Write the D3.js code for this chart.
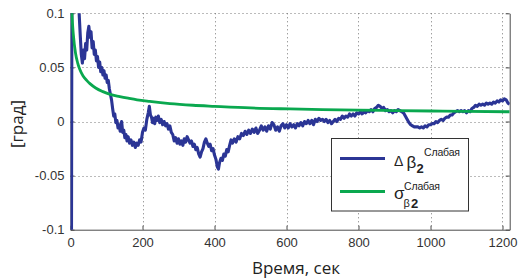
<!DOCTYPE html>
<html><head><meta charset="utf-8">
<script src="https://cdn.jsdelivr.net/npm/d3@7/dist/d3.min.js"></script>
<style>
html,body{margin:0;padding:0;background:#fff;}
svg{display:block;}
</style></head>
<body>
<svg id="chart" width="521" height="279"></svg>
<script>
// ---- data ----
const xTicks = [0, 200, 400, 600, 800, 1000, 1200];
const yTicks = [-0.1, -0.05, 0, 0.05, 0.1];
const yTickLabels = ["-0.1", "-0.05", "0", "0.05", "0.1"];
const xLabel = "Время, сек";
const yLabel = "[град]";
const seriesNames = ["Δ β", "σ"];

// Δβ2 (weak) – time, value
const deltaT = [2.5,4,6,9,12,16,20,24,27,30,33,36,39,42,45,48,51,54,57,60,63,66,69,72,75,78,81,84,87,90,93,96,99,102,105,108,111,114,117,120,123,126,129,132,135,138,142,145,148,151,154,157,160,164,168,172,176,180,184,188,192,196,200,204,208,212,216,219,222,225,228,231,234,237,240,244,248,252,256,260,264,268,272,276,280,284,288,292,296,300,304,308,312,316,320,324,328,332,336,340,344,348,352,356,360,364,368,372,376,380,384,388,392,396,400,404,408,411,414,418,422,426,430,434,438,442,446,450,455,460,465,470,475,480,485,490,495,500,505,510,515,520,525,530,535,540,545,550,555,560,565,570,575,580,585,590,595,600,605,610,615,620,625,630,635,640,645,650,655,660,665,670,675,680,685,690,695,700,705,710,715,720,725,730,735,740,745,750,755,760,765,770,775,780,785,790,795,800,805,810,815,820,825,830,835,840,845,850,855,860,865,870,875,880,885,890,895,900,905,910,915,920,925,930,935,940,945,950,955,960,965,970,975,980,985,990,995,1000,1005,1010,1015,1020,1025,1030,1035,1040,1045,1050,1055,1060,1065,1070,1075,1080,1085,1090,1095,1100,1105,1110,1115,1120,1125,1130,1135,1140,1145,1150,1155,1160,1165,1170,1175,1180,1185,1190,1195,1200,1205,1210,1215,1220];
const deltaV = [-0.15,0.15,0.105,0.13,0.102,0.12,0.104,0.1,0.08,0.062,0.054,0.066,0.058,0.072,0.066,0.082,0.088,0.078,0.083,0.068,0.074,0.062,0.066,0.056,0.06,0.05,0.055,0.046,0.05,0.043,0.047,0.04,0.043,0.036,0.038,0.03,0.025,0.02,0.012,0.005,0.007,-0.001,0.001,-0.006,-0.003,-0.009,0.0,-0.01,-0.008,-0.015,-0.012,-0.018,-0.014,-0.02,-0.017,-0.022,-0.019,-0.024,-0.02,-0.022,-0.017,-0.019,-0.01,-0.006,-0.008,0.002,0.008,0.014,0.006,0.004,-0.001,0.003,-0.002,0.004,0.001,0.005,-0.001,0.002,-0.003,0.0,-0.004,-0.002,-0.007,-0.004,-0.01,-0.012,-0.018,-0.015,-0.02,-0.016,-0.021,-0.018,-0.022,-0.016,-0.019,-0.014,-0.017,-0.02,-0.018,-0.023,-0.021,-0.026,-0.024,-0.03,-0.033,-0.028,-0.025,-0.019,-0.016,-0.02,-0.023,-0.021,-0.027,-0.025,-0.031,-0.035,-0.042,-0.044,-0.038,-0.034,-0.036,-0.03,-0.032,-0.026,-0.028,-0.022,-0.017,-0.02,-0.016,-0.019,-0.014,-0.016,-0.011,-0.013,-0.009,-0.012,-0.008,-0.011,-0.007,-0.01,-0.006,-0.011,-0.008,-0.004,-0.008,-0.005,-0.009,-0.004,-0.007,-0.001,-0.003,-0.008,-0.005,-0.009,-0.004,-0.002,-0.006,-0.003,-0.006,-0.002,-0.005,-0.003,-0.006,-0.002,-0.004,-0.001,-0.004,0.0,-0.002,0.001,-0.002,0.001,-0.003,0.002,0.0,0.003,0.001,0.002,0.0,0.002,-0.001,0.001,-0.002,0.0,0.002,0.0,0.003,0.002,0.005,0.003,0.005,0.004,0.007,0.005,0.007,0.005,0.008,0.007,0.009,0.007,0.009,0.008,0.01,0.009,0.011,0.009,0.012,0.013,0.015,0.014,0.012,0.013,0.01,0.011,0.009,0.01,0.008,0.01,0.009,0.011,0.01,0.009,0.008,0.005,0.002,-0.001,-0.003,-0.004,-0.005,-0.005,-0.005,-0.006,-0.005,-0.006,-0.004,-0.005,-0.003,-0.003,-0.002,-0.002,0.0,-0.001,0.001,0.002,0.001,0.003,0.004,0.004,0.006,0.006,0.008,0.009,0.01,0.009,0.01,0.009,0.01,0.008,0.01,0.009,0.012,0.013,0.015,0.014,0.016,0.015,0.016,0.015,0.017,0.016,0.017,0.016,0.018,0.017,0.019,0.018,0.02,0.019,0.021,0.02,0.017,0.016];

// σβ2 (weak) – time, value
const sigmaT = [2,4,8,14,20,26,35,45,54,70,90,110,137,160,185,220,276,340,400,500,610,700,800,900,1000,1100,1220];
const sigmaV = [0.12,0.1,0.08,0.063,0.054,0.048,0.042,0.038,0.035,0.031,0.0276,0.025,0.023,0.0215,0.02,0.0185,0.0165,0.015,0.014,0.0125,0.0116,0.011,0.0105,0.0101,0.0097,0.0093,0.009];

// ---- layout ----
const W = 521, H = 279;
const m = {left: 70.5, top: 13.3, right: 11.3, bottom: 49.3};
const pw = W - m.left - m.right, ph = H - m.top - m.bottom;
const blue = "#2b3595", green = "#0aa84f";
const axisCol = "#4a4a4a";

const svg = d3.select("#chart");
const x = d3.scaleLinear().domain([0, 1220]).range([m.left, m.left + pw]);
const y = d3.scaleLinear().domain([-0.1, 0.1]).range([m.top + ph, m.top]);

// grid
const grid = svg.append("g").attr("stroke", "#777").attr("stroke-width", 1).attr("stroke-dasharray", "1,3");
grid.selectAll(".gx").data(xTicks.filter(d => d > 0)).join("line")
  .attr("x1", d => Math.round(x(d)) + 0.5).attr("x2", d => Math.round(x(d)) + 0.5)
  .attr("y1", m.top).attr("y2", m.top + ph);
grid.selectAll(".gy").data(yTicks.filter(d => d > -0.1)).join("line")
  .attr("y1", d => Math.round(y(d)) + 0.5).attr("y2", d => Math.round(y(d)) + 0.5)
  .attr("x1", m.left).attr("x2", m.left + pw);

// axes
const fontTick = "'Liberation Sans', Arial, sans-serif";
const xAxis = d3.axisBottom(x).tickValues(xTicks).tickSizeInner(-4).tickSizeOuter(0).tickPadding(8).tickFormat(d3.format("d"));
const gx = svg.append("g").attr("transform", `translate(0,${m.top + ph})`).call(xAxis);
const yAxis = d3.axisLeft(y).tickValues(yTicks).tickSizeInner(-4).tickSizeOuter(0).tickPadding(6)
  .tickFormat((d, i) => yTickLabels[i]);
const gy = svg.append("g").attr("transform", `translate(${m.left},0)`).call(yAxis);
[gx, gy].forEach(g => {
  g.select(".domain").attr("stroke", axisCol);
  g.selectAll(".tick line").attr("stroke", axisCol);
  g.selectAll("text").attr("fill", "#333").style("font-family", fontTick).style("font-size", "13px");
});
// right border with inward ticks
const yAxisR = d3.axisRight(y).tickValues(yTicks).tickSizeInner(-4).tickSizeOuter(0).tickFormat("");
const gr = svg.append("g").attr("transform", `translate(${m.left + pw},0)`).call(yAxisR);
gr.select(".domain").attr("stroke", axisCol);
gr.selectAll(".tick line").attr("stroke", axisCol);

// clip
svg.append("clipPath").attr("id", "clip").append("rect")
  .attr("x", m.left).attr("y", m.top).attr("width", pw).attr("height", ph);

const deltaData = deltaT.map((t, i) => [t, deltaV[i]]);
const sigmaData = sigmaT.map((t, i) => [t, sigmaV[i]]);
const line = d3.line().x(d => x(d[0])).y(d => y(d[1]));
const lineSmooth = d3.line().x(d => x(d[0])).y(d => y(d[1])).curve(d3.curveMonotoneX);

const plot = svg.append("g").attr("clip-path", "url(#clip)");
plot.append("path").datum(deltaData).attr("d", line)
  .attr("fill", "none").attr("stroke", blue).attr("stroke-width", 3.1).attr("stroke-linejoin", "round");
plot.append("path").datum(sigmaData).attr("d", lineSmooth)
  .attr("fill", "none").attr("stroke", green).attr("stroke-width", 2.8);

// axis labels
const fontLab = "'Open Sans', 'Noto Sans', sans-serif";
svg.append("text").attr("x", 296).attr("y", 274).attr("text-anchor", "middle")
  .style("font-family", fontLab).style("font-size", "17px").attr("fill", "#222").text(xLabel);
svg.append("text").attr("transform", "translate(23,124) rotate(-90)").attr("text-anchor", "middle")
  .style("font-family", fontLab).style("font-size", "17px").attr("fill", "#222").text(yLabel);

// legend
const lg = svg.append("g");
lg.append("rect").attr("x", 331.5).attr("y", 138.5).attr("width", 137).attr("height", 72.5)
  .attr("fill", "#fff").attr("stroke", "#333").attr("stroke-width", 1);
lg.append("line").attr("x1", 340).attr("x2", 385).attr("y1", 158.5).attr("y2", 158.5).attr("stroke", blue).attr("stroke-width", 2.8);
lg.append("line").attr("x1", 340).attr("x2", 385).attr("y1", 191.5).attr("y2", 191.5).attr("stroke", green).attr("stroke-width", 2.8);
const lf = "'Liberation Sans', Arial, sans-serif";
// entry 1: Δ β_2^Слабая
lg.append("text").attr("x", 394).attr("y", 166).style("font-family", lf).style("font-size", "14px").attr("fill", "#222").text("Δ");
lg.append("text").attr("x", 406.5).attr("y", 168).style("font-family", lf).style("font-size", "17px").attr("fill", "#222").text("β");
lg.append("text").attr("x", 416.5).attr("y", 172.5).style("font-family", lf).style("font-size", "13px").style("font-weight", "bold").attr("fill", "#222").text("2");
lg.append("text").attr("x", 424).attr("y", 155.5).style("font-family", lf).style("font-size", "10.5px").attr("textLength", 36).attr("fill", "#222").text("Слабая");
// entry 2: σ_β2^Слабая
lg.append("text").attr("x", 394).attr("y", 198.5).style("font-family", lf).style("font-size", "17px").attr("fill", "#222").text("σ");
lg.append("text").attr("x", 403.5).attr("y", 206.5).style("font-family", lf).style("font-size", "11px").attr("fill", "#222").text("β");
lg.append("text").attr("x", 411).attr("y", 207.5).style("font-family", lf).style("font-size", "13px").style("font-weight", "bold").attr("fill", "#222").text("2");
lg.append("text").attr("x", 404).attr("y", 189.5).style("font-family", lf).style("font-size", "10.5px").attr("textLength", 36).attr("fill", "#222").text("Слабая");
</script>
</body></html>
